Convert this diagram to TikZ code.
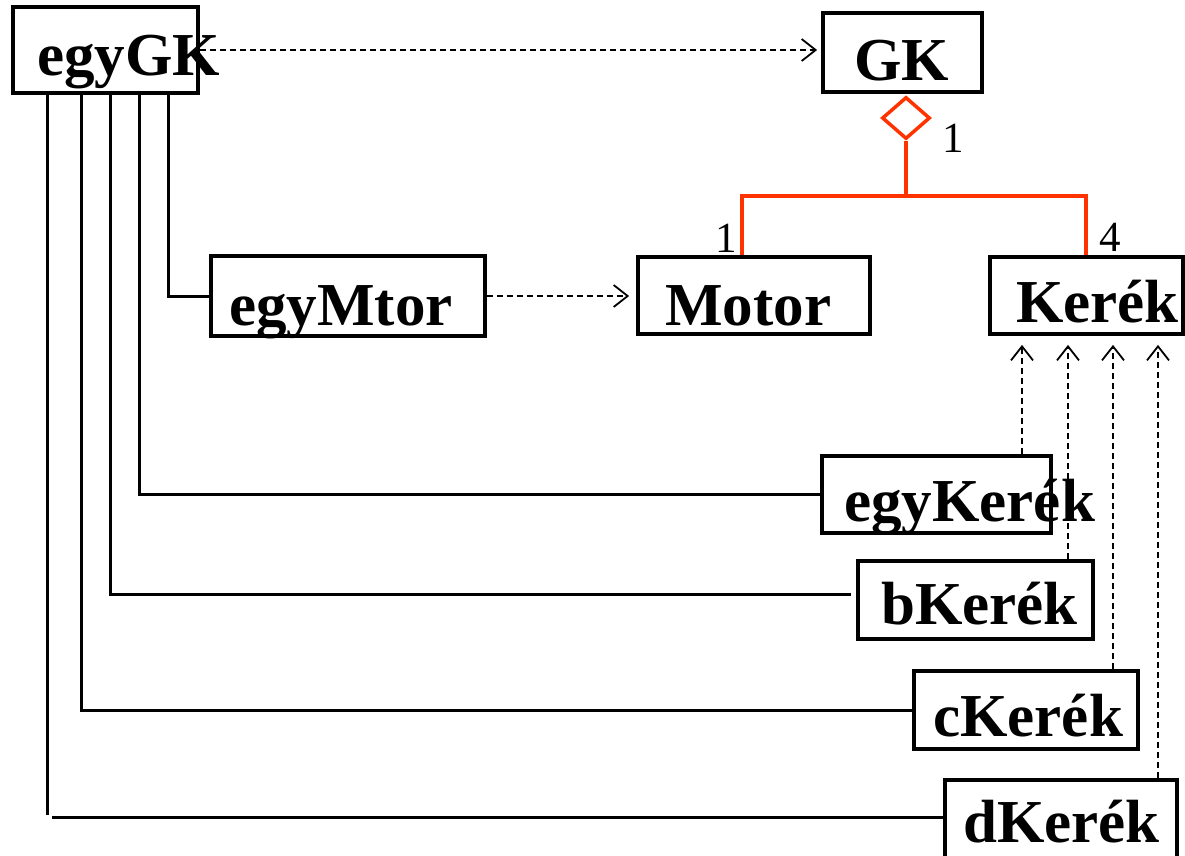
\documentclass[tikz,border=0pt]{standalone}
\usepackage{fontspec}
\setmainfont{Liberation Serif}
\usetikzlibrary{arrows.meta,shapes.geometric,fit,calc}
\definecolor{aggred}{HTML}{FF3300}
\begin{document}
\begin{tikzpicture}[x=1pt,y=-1pt,
  lbl/.style={font=\fontsize{61}{61}\selectfont\bfseries, anchor=base west, inner sep=0pt},
  mult/.style={font=\fontsize{43}{43}\selectfont, anchor=base west, inner sep=0pt},
  box/.style={draw, line width=3.8pt, inner sep=0pt},
  conn/.style={line width=3pt},
  dep/.style={line width=1.7pt, dash pattern=on 6pt off 4pt, -{Straight Barb[length=14pt,width=22pt,line width=1.8pt]}},
  agg/.style={draw=aggred, line width=4pt},
]
\useasboundingbox (0,0) rectangle (1185,855);

% texts
\node[lbl] (tegyGK) at (37,75) {egyGK};
\node[lbl] (tGK) at (854,80) {GK};
\node[lbl] (tegyMtor) at (229,325) {egyMtor};
\node[lbl] (tMotor) at (665,325) {Motor};
\node[lbl] (tKerek) at (1016,322) {Kerék};
\node[lbl] (tegyKerek) at (844,521) {egyKerék};
\node[lbl] (tbKerek) at (881,624) {bKerék};
\node[lbl] (tcKerek) at (933,736) {cKerék};
\node[lbl] (tdKerek) at (963,842) {dKerék};

% boxes
\node[box, fit={(13,7) (198,93)}] (egyGK) {};
\node[box, fit={(823,13) (982,92)}] (GK) {};
\node[box, fit={(211,256) (485,336)}] (egyMtor) {};
\node[box, fit={(638,257) (870,334)}] (Motor) {};
\node[box, fit={(990,257) (1183,334)}] (Kerek) {};
\node[box, fit={(822,456) (1051,533)}] (egyKerek) {};
\node[box, fit={(858,561) (1093,639)}] (bKerek) {};
\node[box, fit={(914,671) (1138,749)}] (cKerek) {};
\node[box, fit={(945,780) (1177,872)}] (dKerek) {};

% dependency arrows
\draw[dep, shorten >=4pt] (egyGK.east) -- (egyGK.east -| GK.west);
\draw[dep, shorten >=7pt] (egyMtor.east) -- (egyMtor.east -| Motor.west);
\coordinate (k1) at (1022,0);
\coordinate (k2) at (1068,0);
\coordinate (k3) at (1113,0);
\coordinate (k4) at (1158,0);
\draw[dep, shorten >=9pt] (egyKerek.north -| k1) -- (Kerek.south -| k1);
\draw[dep, shorten >=9pt] (bKerek.north -| k2) -- (Kerek.south -| k2);
\draw[dep, shorten >=9pt] (cKerek.north -| k3) -- (Kerek.south -| k3);
\draw[dep, shorten >=9pt] (dKerek.north -| k4) -- (Kerek.south -| k4);

% aggregation
\node[diamond, draw=aggred, line width=3.5pt, fill=white, minimum width=48pt, minimum height=42pt, inner sep=0pt] (dia) at (906,118) {};
\coordinate (j) at (906,196);
\coordinate (mx) at (742,0);
\coordinate (kx) at (1086,0);
\draw[agg] (dia.south) -- (j);
\draw[agg, line join=miter] (Motor.north -| mx) |- (j) -| (Kerek.north -| kx);
\node[mult] (m1) at (942,152) {1};
\node[mult] (m2) at (715,252) {1};
\node[mult] (m3) at (1099,251) {4};

% links from egyGK
\coordinate (v1) at (47,0);
\coordinate (v2) at (81,0);
\coordinate (v3) at (110,0);
\coordinate (v4) at (139,0);
\coordinate (v5) at (168,0);
\draw[conn] (egyGK.south -| v5) |- (egyMtor.west);
\draw[conn] (egyGK.south -| v4) |- (egyKerek.west);
\draw[conn] (egyGK.south -| v3) |- ([shift={(-5,-6)}]bKerek.west);
\draw[conn] (egyGK.south -| v2) |- (cKerek.west);
\coordinate (dcorner) at (47,815);
\coordinate (dstart) at (52,817);
\draw[conn] (egyGK.south -| v1) -- (dcorner);
\draw[conn] (dstart) -- (dstart -| dKerek.west);
\end{tikzpicture}
\end{document}
